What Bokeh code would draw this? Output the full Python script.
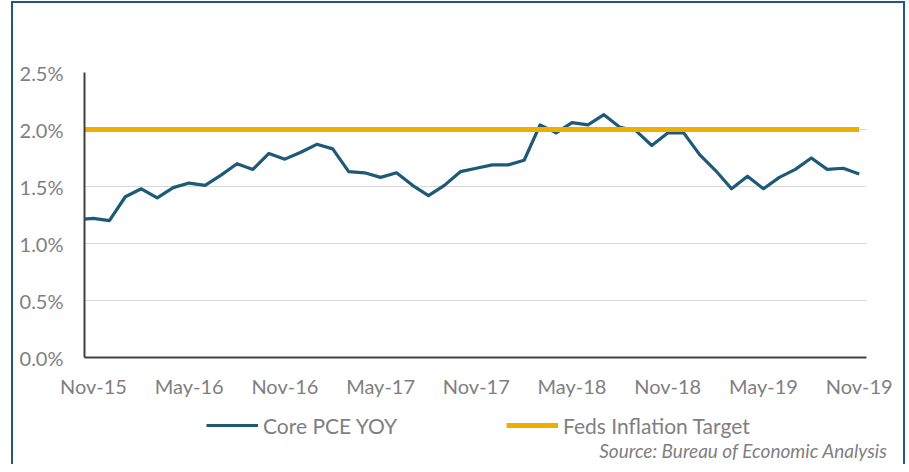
from bokeh.plotting import figure
from bokeh.layouts import column
from bokeh.models import (Range1d, FixedTicker, PrintfTickFormatter, Legend,
                          LegendItem, Label, ColumnDataSource)
from bokeh.embed import file_html
from bokeh.resources import INLINE

# ---------------- data ----------------
months = ["Oct-15", "Nov-15", "Dec-15",
          "Jan-16", "Feb-16", "Mar-16", "Apr-16", "May-16", "Jun-16",
          "Jul-16", "Aug-16", "Sep-16", "Oct-16", "Nov-16", "Dec-16",
          "Jan-17", "Feb-17", "Mar-17", "Apr-17", "May-17", "Jun-17",
          "Jul-17", "Aug-17", "Sep-17", "Oct-17", "Nov-17", "Dec-17",
          "Jan-18", "Feb-18", "Mar-18", "Apr-18", "May-18", "Jun-18",
          "Jul-18", "Aug-18", "Sep-18", "Oct-18", "Nov-18", "Dec-18",
          "Jan-19", "Feb-19", "Mar-19", "Apr-19", "May-19", "Jun-19",
          "Jul-19", "Aug-19", "Sep-19", "Oct-19", "Nov-19"]

core_pce = [1.21, 1.22, 1.20,
            1.41, 1.48, 1.40, 1.49, 1.53, 1.51,
            1.60, 1.70, 1.65, 1.79, 1.74, 1.80,
            1.87, 1.83, 1.63, 1.62, 1.58, 1.62,
            1.51, 1.42, 1.51, 1.63, 1.66, 1.69,
            1.69, 1.73, 2.04, 1.97, 2.06, 2.04,
            2.13, 2.02, 1.99, 1.86, 1.97, 1.97,
            1.78, 1.64, 1.48, 1.59, 1.48, 1.58,
            1.65, 1.75, 1.65, 1.66, 1.61]

fed_target = [2.0, 2.0, 2.0,
              2.0, 2.0, 2.0, 2.0, 2.0, 2.0,
              2.0, 2.0, 2.0, 2.0, 2.0, 2.0,
              2.0, 2.0, 2.0, 2.0, 2.0, 2.0,
              2.0, 2.0, 2.0, 2.0, 2.0, 2.0,
              2.0, 2.0, 2.0, 2.0, 2.0, 2.0,
              2.0, 2.0, 2.0, 2.0, 2.0, 2.0,
              2.0, 2.0, 2.0, 2.0, 2.0, 2.0,
              2.0, 2.0, 2.0, 2.0, 2.0]

tick_labels = ["Nov-15", "May-16", "Nov-16", "May-17", "Nov-17",
               "May-18", "Nov-18", "May-19", "Nov-19"]
y_ticks = [0.0, 0.5, 1.0, 1.5, 2.0, 2.5]

series_names = ["Core PCE YOY", "Feds Inflation Target"]
source_note = "Source: Bureau of Economic Analysis"

# month position relative to Nov-15
origin = months.index("Nov-15")
xpos = [i - origin for i in range(len(months))]
tick_pos = [months.index(t) - origin for t in tick_labels]

src = ColumnDataSource(dict(x=xpos, core=core_pce, target=fed_target))

BLUE = "#1D5A78"
GOLD = "#EEAE00"
FRAME = "#1F5A7A"
GRAY_TXT = "#7F7F7F"
FONT = "Lato"
W = 894
H1 = 405
H2 = 64
H = H1 + H2

# ---------------- main chart ----------------
p = figure(width=W, height=H1, output_backend="svg", toolbar_location=None,
           x_range=Range1d(-0.56, 48.46), y_range=Range1d(0, 2.5),
           min_border_left=80, min_border_right=32,
           min_border_top=77, min_border_bottom=43)
p.border_fill_alpha = 0
p.background_fill_alpha = 0
p.outline_line_color = None

r_core = p.line("x", "core", source=src, line_color=BLUE, line_width=3.2,
                line_join="round")
r_target = p.line("x", "target", source=src, line_color=GOLD, line_width=5)

for ax in (p.xaxis[0], p.yaxis[0]):
    ax.axis_line_color = "#404040"
    ax.axis_line_width = 2
    ax.major_tick_line_color = None
    ax.minor_tick_line_color = None
    ax.major_tick_out = 0
    ax.major_tick_in = 0
    ax.major_label_text_font = FONT
    ax.major_label_text_font_size = "20px"
    ax.major_label_text_color = GRAY_TXT

p.xaxis.ticker = FixedTicker(ticks=tick_pos)
p.xaxis.major_label_overrides = {tp: lab for tp, lab in zip(tick_pos, tick_labels)}
p.xaxis.major_label_standoff = 16

p.yaxis.ticker = FixedTicker(ticks=y_ticks)
p.yaxis.formatter = PrintfTickFormatter(format="%.1f%%")
p.yaxis.major_label_standoff = 21

p.xgrid.grid_line_color = None
p.ygrid.grid_line_color = "#D9D9D9"
p.ygrid.grid_line_width = 1

# ---------------- legend + source strip ----------------
p2 = figure(width=W, height=H2, output_backend="svg", toolbar_location=None,
            x_range=Range1d(0, W), y_range=Range1d(0, H2),
            x_axis_type=None, y_axis_type=None, min_border=0)
p2.frame_align = False
p2.border_fill_alpha = 0
p2.background_fill_alpha = 0
p2.outline_line_color = None

nan = float("nan")
k_core = p2.line(x=[nan], y=[nan], line_color=BLUE, line_width=3.2)
k_target = p2.line(x=[nan], y=[nan], line_color=GOLD, line_width=5)

def make_legend(label, rend, loc):
    return Legend(items=[LegendItem(label=label, renderers=[rend])],
                  location=loc, orientation="horizontal",
                  border_line_color=None, background_fill_alpha=0,
                  padding=0, margin=0, glyph_width=52, glyph_height=26,
                  label_height=26, label_standoff=5,
                  label_text_font=FONT, label_text_font_size="21px",
                  label_text_color=GRAY_TXT, label_text_baseline="middle")

p2.add_layout(make_legend(series_names[0], k_core, (202, 26)))
p2.add_layout(make_legend(series_names[1], k_target, (502, 26)))
p2.add_layout(Label(x=883, y=14, text=source_note, text_align="right",
                    text_baseline="middle", text_font=FONT,
                    text_font_style="italic", text_font_size="19px",
                    text_color=GRAY_TXT))

layout = column(p, p2, spacing=0)
layout.margin = (-5, 0, -8, 4)
layout.styles = {"box-shadow": (
    f"12px -{H - 6}px 0 0 white, "
    "5px 8px 0 0 white, "
    f"7px 0 0 0 {FRAME}, "
    "inset 0 6px 0 0 white, "
    "inset 7px 0 0 0 white, "
    f"inset 9px 0 0 0 {FRAME}, "
    f"inset 0 8px 0 0 {FRAME}")}

open("out.html", "w").write(file_html(layout, INLINE))
